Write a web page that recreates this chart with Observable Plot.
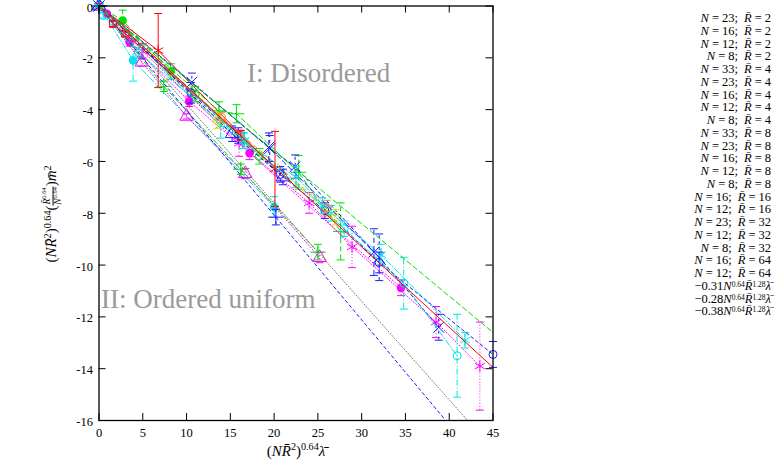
<!DOCTYPE html>
<html><head><meta charset="utf-8">
<script src="https://cdn.jsdelivr.net/npm/d3@7"></script>
<script src="https://cdn.jsdelivr.net/npm/@observablehq/plot@0.6"></script>
<style>
body{margin:0;background:#fff;}
#wrap{position:relative;width:775px;height:464px;font-family:"Liberation Serif","Times New Roman",serif;color:#000;overflow:hidden;}
#wrap svg text{font-family:"Liberation Serif","Times New Roman",serif;}
#legend{position:absolute;right:4px;top:12px;text-align:right;font-size:12.5px;line-height:12.75px;white-space:nowrap;}
#legend div{height:12.75px;}
#legend sup{font-size:0.6em;vertical-align:0.38em;}
.eq{margin:0 3px;}
.sc{margin-right:3px;}
sup{font-size:0.68em;vertical-align:0.5em;line-height:0;}
#xlab{position:absolute;left:296px;top:451px;transform:translate(-50%,-50%);font-size:15px;white-space:nowrap;line-height:1;}
#ylab{position:absolute;left:53px;top:214px;transform:translate(-50%,-50%) rotate(-90deg);font-size:15px;white-space:nowrap;line-height:1;}
.frac{display:inline-flex;flex-direction:column;vertical-align:middle;font-size:9.5px;text-align:center;line-height:1.05;}
.frac .num{border-bottom:0.7px solid #000;padding:0 1px;}
</style></head><body><div id="wrap"></div>
<script>
// ---- tick labels ----
const xTicks = [0, 5, 10, 15, 20, 25, 30, 35, 40, 45];
const yTicks = [0, -2, -4, -6, -8, -10, -12, -14, -16];

// ---- legend / series identification ----
const seriesN = [23, 16, 12, 8, 33, 23, 16, 12, 8, 33, 23, 16, 12, 8, 16, 12, 23, 12, 8, 16, 12];
const seriesR = [2, 2, 2, 2, 4, 4, 4, 4, 4, 8, 8, 8, 8, 8, 16, 16, 32, 32, 32, 64, 64];
const fitSlopes = [-0.31, -0.28, -0.38];

// ---- data: [x, y, error] per series ----
const sN23R2 = [[0,0,0],[3.5,-1.40,0.15],[10.3,-3.68,0.2],[17.2,-5.68,0.25],[34.5,-10.88,0.3]];
const sN16R2 = [[0,0,0],[2.7,-0.56,0.4],[8.2,-2.53,0.3]];
const sN12R2 = [[0,0,0],[3.9,-2.1,0.8],[20.0,-7.76,0.4]];
const sN8R2  = [[0,0,0],[0.9,-0.3,0.05]];
const sN33R4 = [[0,0,0],[6.76,-1.72,1.43],[20.1,-6.29,1.45]];
const sN23R4 = [[0,0,0],[13.7,-4.05,0.35],[15.7,-4.16,0.35],[22.8,-6.42,0.65],[27.6,-8.7,1.1]];
const sN16R4 = [[0,0,0],[10.6,-2.94,0.35],[19.5,-5.5,0.5],[22.4,-6.2,0.45],[32.0,-9.7,0.9],[38.8,-12.4,0.5]];
const sN12R4 = [[0,0,0],[5.0,-1.75,0.3],[16.0,-5.3,0.5],[24.0,-7.6,0.4],[28.9,-9.3,0.8],[38.5,-12.2,0.6],[43.5,-13.9,1.7]];
const sN8R4  = [[0,0,0],[13.9,-4.6,0.5],[22.5,-6.6,0.4],[26.5,-8.0,0.3],[32.2,-9.6,0.4],[41.8,-12.9,0.3]];
const sN33R8 = [[0,0,0],[10.5,-3.35,0.4],[15.9,-5.0,0.3],[20.7,-6.5,0.3],[25.8,-7.9,0.3],[32.0,-9.9,0.4],[45.0,-13.45,0.5]];
const sN23R8 = [[0,0,0],[0.5,-0.37,0.1],[4.5,-1.8,0.2],[16.5,-5.2,0.3],[28.0,-8.6,0.3],[34.8,-10.7,1.0],[40.9,-13.5,1.6]];
const sN16R8 = [[0,0,0],[13.5,-4.42,0.3],[27.0,-8.15,0.3]];
const sN12R8 = [[0,0,0],[1.6,-0.69,0.1],[3.0,-1.07,0.1],[16.2,-5.0,0.2]];
const sN8R8  = [[0,0,0],[11.0,-3.4,0.3],[18.3,-5.8,0.3]];
const sN16R16 = [[0,0,0],[4.9,-2.17,0.15],[10.0,-4.26,0.1],[16.7,-6.47,0.2],[25.2,-9.71,0.2]];
const sN12R16 = [[0,0,0],[15.2,-4.93,0.3],[21.0,-6.6,0.3]];
const sN23R32 = [[0,0,0],[14.0,-4.3,0.2],[26.0,-7.8,0.3]];
const sN12R32 = [[0,0,0],[19.4,-5.45,0.55],[31.4,-9.5,0.9]];
const sN8R32  = [[0,0,0],[16.6,-5.2,0.3],[25.5,-7.7,0.3]];
const sN16R64 = [[0,0,0],[7.4,-3.1,0.2],[16.2,-6.3,0.2],[25.0,-9.5,0.3]];
const sN12R64 = [[0,0,0],[20.2,-8.15,0.3],[48.0,-19.4,0]];

const allSeries = [sN23R2, sN16R2, sN12R2, sN8R2, sN33R4, sN23R4, sN16R4, sN12R4, sN8R4,
  sN33R8, sN23R8, sN16R8, sN12R8, sN8R8, sN16R16, sN12R16, sN23R32, sN12R32, sN8R32, sN16R64, sN12R64];

// ---- styles ----
const C = {red:"#ff0000", green:"#00e000", blue:"#1a1aff", magenta:"#ff00ff", cyan:"#00e5e5",
  yellow:"#e0e000", orange:"#ff8c1a", gray:"#808080"};
const seriesColor = [C.magenta, C.green, C.cyan, C.magenta, C.red, C.green, C.blue, C.magenta, C.cyan,
  C.blue, C.cyan, C.yellow, C.red, C.green, C.magenta, C.blue, C.orange, C.blue, C.cyan, C.green, C.blue];
const seriesSymbol = ["fcircle","fcircle","fcircle","fcircle","asterisk","plus","times","asterisk","asterisk",
  "ocircle","ocircle","ocircle","square","ocircle","triangle","triangle","ocircle","times","asterisk","plus","plus"];
const seriesDash = ["dot","dash","dashdot","dot","solid","dash","short","dot","dashdot",
  "short","dashdot","dash","solid","dash","dot","short","dash","dash","dashdot","dash","short"];
const dashes = {solid: undefined, dash: "5,3", short: "3,3", dot: "1,2", dashdot: "6,2,1,2"};
const fitColor = [C.red, C.green, "#777777"];
const fitDash = ["solid", "dash", "dot"];

const W = 775, H = 464, mL = 98.5, mR = 282.5, mT = 5.5, mB = 44;
const plotW = W - mL - mR, plotH = H - mT - mB, tickLen = 7;
const xMax = xTicks[xTicks.length - 1], yMin = yTicks[yTicks.length - 1];

const hline = {draw(ctx, size) { const r = Math.sqrt(size / Math.PI); ctx.moveTo(-r, 0); ctx.lineTo(r, 0); }};

function markerOpts(kind, color) {
  switch (kind) {
    case "fcircle": return {symbol: "circle", r: 4.3, fill: color, stroke: "none"};
    case "ocircle": return {symbol: "circle", r: 4, fill: "none", stroke: color, strokeWidth: 1};
    case "triangle": return {symbol: "triangle", r: 5, fill: "none", stroke: color, strokeWidth: 1};
    case "times": return {symbol: "times", r: 5, fill: "none", stroke: color, strokeWidth: 1};
    case "asterisk": return {symbol: "asterisk", r: 5.5, fill: "none", stroke: color, strokeWidth: 1};
    case "plus": return {symbol: "plus", r: 5, fill: "none", stroke: color, strokeWidth: 1};
    case "square": return {symbol: "square", r: 4, fill: "none", stroke: color, strokeWidth: 1};
  }
}

const marks = [];
allSeries.forEach((s, i) => {
  const rows = s.map(([x, y, e]) => ({x, y, e}));
  const color = seriesColor[i];
  const st = {stroke: color, strokeWidth: 1, strokeDasharray: dashes[seriesDash[i]]};
  marks.push(Plot.line(rows, {x: "x", y: "y", ...st, clip: true}));
  const errs = rows.filter(d => d.e > 0);
  marks.push(Plot.ruleX(errs, {x: "x", y1: d => d.y - d.e, y2: d => d.y + d.e, ...st, clip: true}));
  marks.push(Plot.dot(errs, {x: "x", y: d => d.y - d.e, symbol: hline, r: 4, stroke: color, fill: "none", strokeWidth: 1}));
  marks.push(Plot.dot(errs, {x: "x", y: d => d.y + d.e, symbol: hline, r: 4, stroke: color, fill: "none", strokeWidth: 1}));
  const inside = rows.filter(d => d.x <= xMax && d.y >= yMin);
  marks.push(Plot.dot(inside, {x: "x", y: "y", ...markerOpts(seriesSymbol[i], color)}));
});

fitSlopes.forEach((k, i) => {
  const xEnd = Math.min(xMax, yMin / k);
  const pts = [0, xEnd].map(x => ({x, y: k * x}));
  marks.push(Plot.line(pts, {x: "x", y: "y", stroke: fitColor[i], strokeWidth: 1, strokeDasharray: dashes[fitDash[i]]}));
});

const chart = Plot.plot({
  width: W, height: H,
  marginLeft: mL, marginRight: mR, marginTop: mT, marginBottom: mB,
  style: {fontFamily: "'Liberation Serif', serif", fontSize: "12.5px", background: "transparent", overflow: "visible"},
  x: {domain: [0, xMax], nice: false},
  y: {domain: [yMin, 0], nice: false},
  marks: [
    Plot.text(["I: Disordered"], {text: d => d, frameAnchor: "top-left", dx: 148, dy: 67, textAnchor: "start", lineAnchor: "middle", fontSize: 27, fill: "#9a9a9a"}),
    Plot.text(["II: Ordered uniform"], {text: d => d, frameAnchor: "top-left", dx: 2, dy: 293, textAnchor: "start", lineAnchor: "middle", fontSize: 27, fill: "#9a9a9a"}),
    ...marks,
    Plot.ruleX(xTicks, {x: d => d, insetTop: plotH - tickLen, stroke: "black", strokeWidth: 1}),
    Plot.ruleX(xTicks, {x: d => d, insetBottom: plotH - tickLen, stroke: "black", strokeWidth: 1}),
    Plot.ruleY(yTicks, {y: d => d, insetRight: plotW - tickLen, stroke: "black", strokeWidth: 1}),
    Plot.ruleY(yTicks, {y: d => d, insetLeft: plotW - tickLen, stroke: "black", strokeWidth: 1}),
    Plot.frame({stroke: "black", strokeWidth: 1.3}),
    Plot.axisX({ticks: xTicks, tickSize: 0, tickPadding: 8, tickFormat: d => String(d), label: null, fontSize: 12.5}),
    Plot.axisY({ticks: yTicks, tickSize: 0, tickPadding: 6, tickFormat: d => String(d), label: null, fontSize: 12.5, dy: 1.5})
  ]
});

const wrap = document.getElementById("wrap");
wrap.appendChild(chart);

const R = '<i>R\u0304</i>';
const legend = document.createElement("div");
legend.id = "legend";
const lines = seriesN.map((n, i) => `<i>N</i><span class="eq">=</span>${n};<span class="sc"></span> ${R}<span class="eq">=</span>${seriesR[i]}`);
fitSlopes.forEach(k => lines.push(`\u2212${Math.abs(k).toFixed(2)}<i>N</i><sup>0.64</sup>${R}<sup>1.28</sup><i>\u03bb\u0304</i>`));
legend.innerHTML = lines.map(l => `<div>${l}</div>`).join("");
wrap.appendChild(legend);

const xl = document.createElement("div");
xl.id = "xlab";
xl.innerHTML = `(<i>N</i>${R}<sup>2</sup>)<sup>0.64</sup><i>\u03bb\u0304</i>`;
wrap.appendChild(xl);

const yl = document.createElement("div");
yl.id = "ylab";
yl.innerHTML = `(<i>N</i>${R}<sup>2</sup>)<sup>0.64</sup>(<span class="frac"><span class="num">${R}<sup>0.64</sup></span><span><i>N</i><sup>0.64</sup></span></span>)<i>m\u0304</i><sup>2</sup>`;
wrap.appendChild(yl);
</script>
</body></html>
